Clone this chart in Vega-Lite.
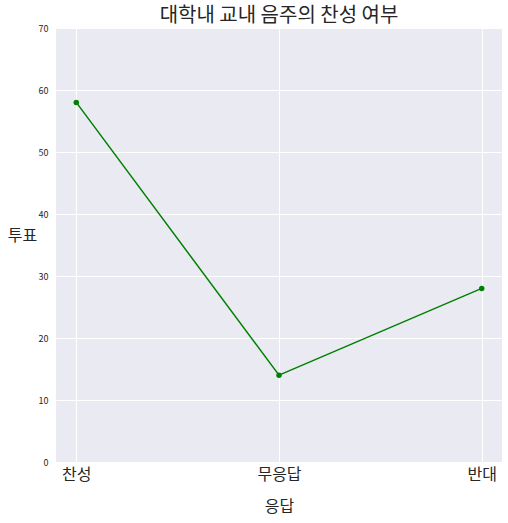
{
  "$schema": "https://vega.github.io/schema/vega-lite/v6.json",
  "autosize": {"type": "none"},
  "padding": {"left": 56, "top": 28, "right": 6, "bottom": 61},
  "width": 446,
  "height": 434,
  "background": "white",
  "title": {"text": "대학내 교내 음주의 찬성 여부", "font": "Noto Sans CJK KR", "fontSize": 20, "fontWeight": "normal", "color": "#262626", "anchor": "middle", "frame": "group", "offset": -2},
  "data": {"values": [
    {"응답": "찬성", "투표": 58},
    {"응답": "무응답", "투표": 14},
    {"응답": "반대", "투표": 28}
  ]},
  "config": {
    "view": {"fill": "#EAEAF2", "stroke": null},
    "font": "Noto Sans CJK KR",
    "axis": {"gridColor": "white", "gridWidth": 1, "domain": false, "ticks": false, "labelColor": "#262626", "titleColor": "#262626", "titleFontWeight": "normal", "labelFont": "Noto Sans CJK KR", "titleFont": "Noto Sans CJK KR"}
  },
  "mark": {"type": "line", "color": "#008000", "strokeWidth": 1.5, "point": {"filled": true, "color": "#008000", "size": 30}},
  "encoding": {
    "x": {"field": "응답", "type": "nominal", "sort": ["찬성", "무응답", "반대"], "scale": {"type": "point", "padding": 0.1},
      "axis": {"labelAngle": 0, "labelFontSize": 16, "labelPadding": 4, "title": "응답", "titleFontSize": 16, "titleBaseline": "middle", "titleY": 44, "grid": true}},
    "y": {"field": "투표", "type": "quantitative", "scale": {"domain": [0, 70], "nice": false},
      "axis": {"values": [0, 10, 20, 30, 40, 50, 60, 70], "labelFontSize": 9, "labelPadding": 8, "title": "투표", "titleFontSize": 16, "titleAngle": 0, "titleX": -34, "titleY": 207, "titleAlign": "center", "titleBaseline": "middle"}}
  }
}
